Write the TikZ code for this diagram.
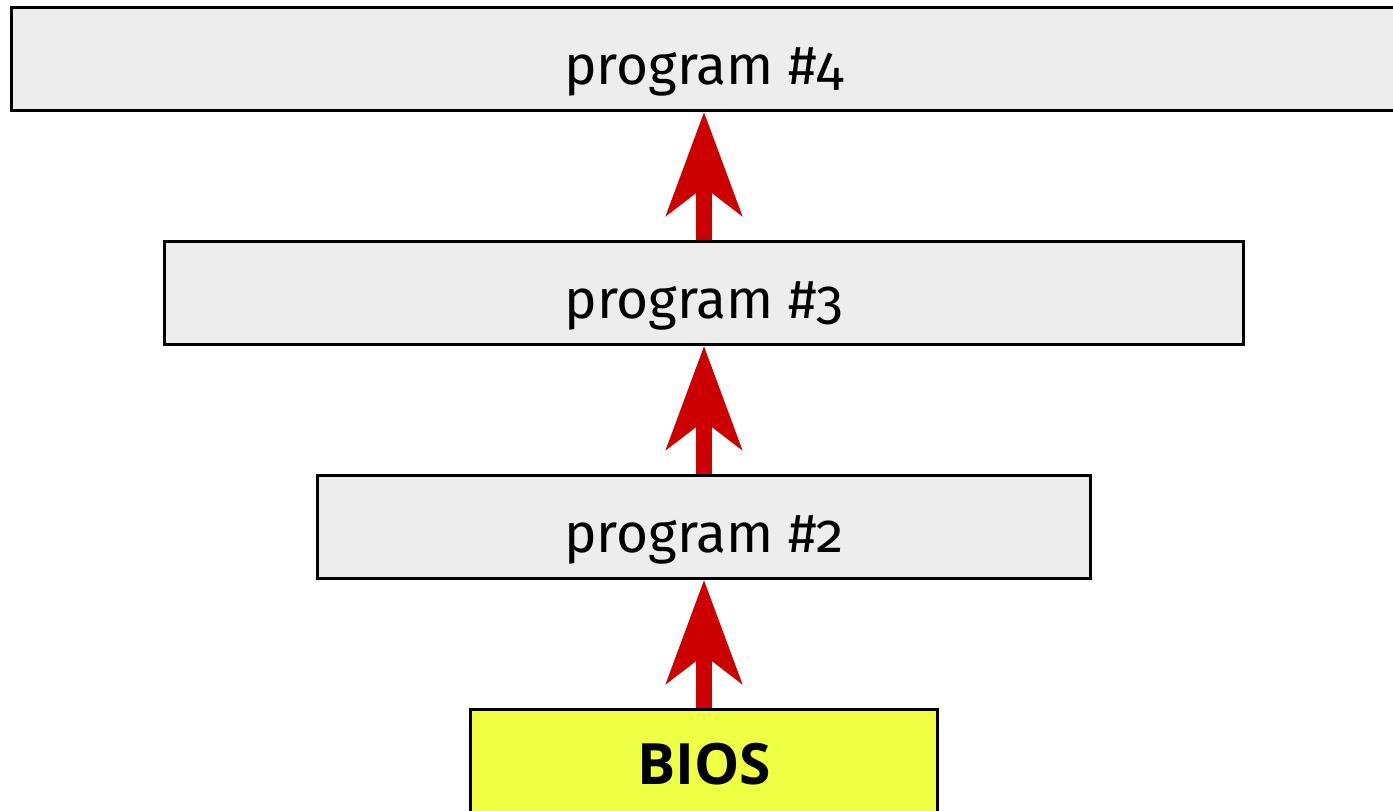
\documentclass[tikz,border=0pt]{standalone}
\usepackage{fontspec}
\setmainfont[Numbers=OldStyle]{Fira Sans}
\newfontfamily\biosfont{Open Sans}
\usetikzlibrary{arrows.meta}
\definecolor{boxgray}{HTML}{EDEDED}
\definecolor{biosyellow}{HTML}{EEFF44}
\definecolor{arrowred}{HTML}{CC0000}
\begin{document}
\begin{tikzpicture}[x=1pt,y=1pt,
  stage/.style={draw=black,line width=3pt,fill=boxgray,rectangle,
    minimum height=103pt,inner sep=0pt,text height=52pt,text depth=0pt,
    font=\fontsize{55}{60}\selectfont},
  firmware/.style={stage,fill=biosyellow,text height=48pt,
    font=\biosfont\bfseries\fontsize{57}{62}\selectfont},
  handoff/.style={arrowred,line width=16pt,
    -{Stealth[length=103pt,width=75pt,inset=28pt]}}]
\useasboundingbox (0,0) rectangle (1393,811);
\clip (0,0) rectangle (1393,811);
\fill[white] (0,0) rectangle (1393,811);
\node[stage,minimum width=1385pt] (p4) at (704,752) {program \#4};
\node[stage,minimum width=1079pt] (p3) at (704,518) {program \#3};
\node[stage,minimum width=773pt] (p2) at (704,284) {program \#2};
\node[firmware,minimum width=467pt] (bios) at (704,50) {BIOS};
\draw[handoff] (bios.north) -- (p2.south);
\draw[handoff] (p2.north) -- (p3.south);
\draw[handoff] (p3.north) -- (p4.south);
\end{tikzpicture}
\end{document}
